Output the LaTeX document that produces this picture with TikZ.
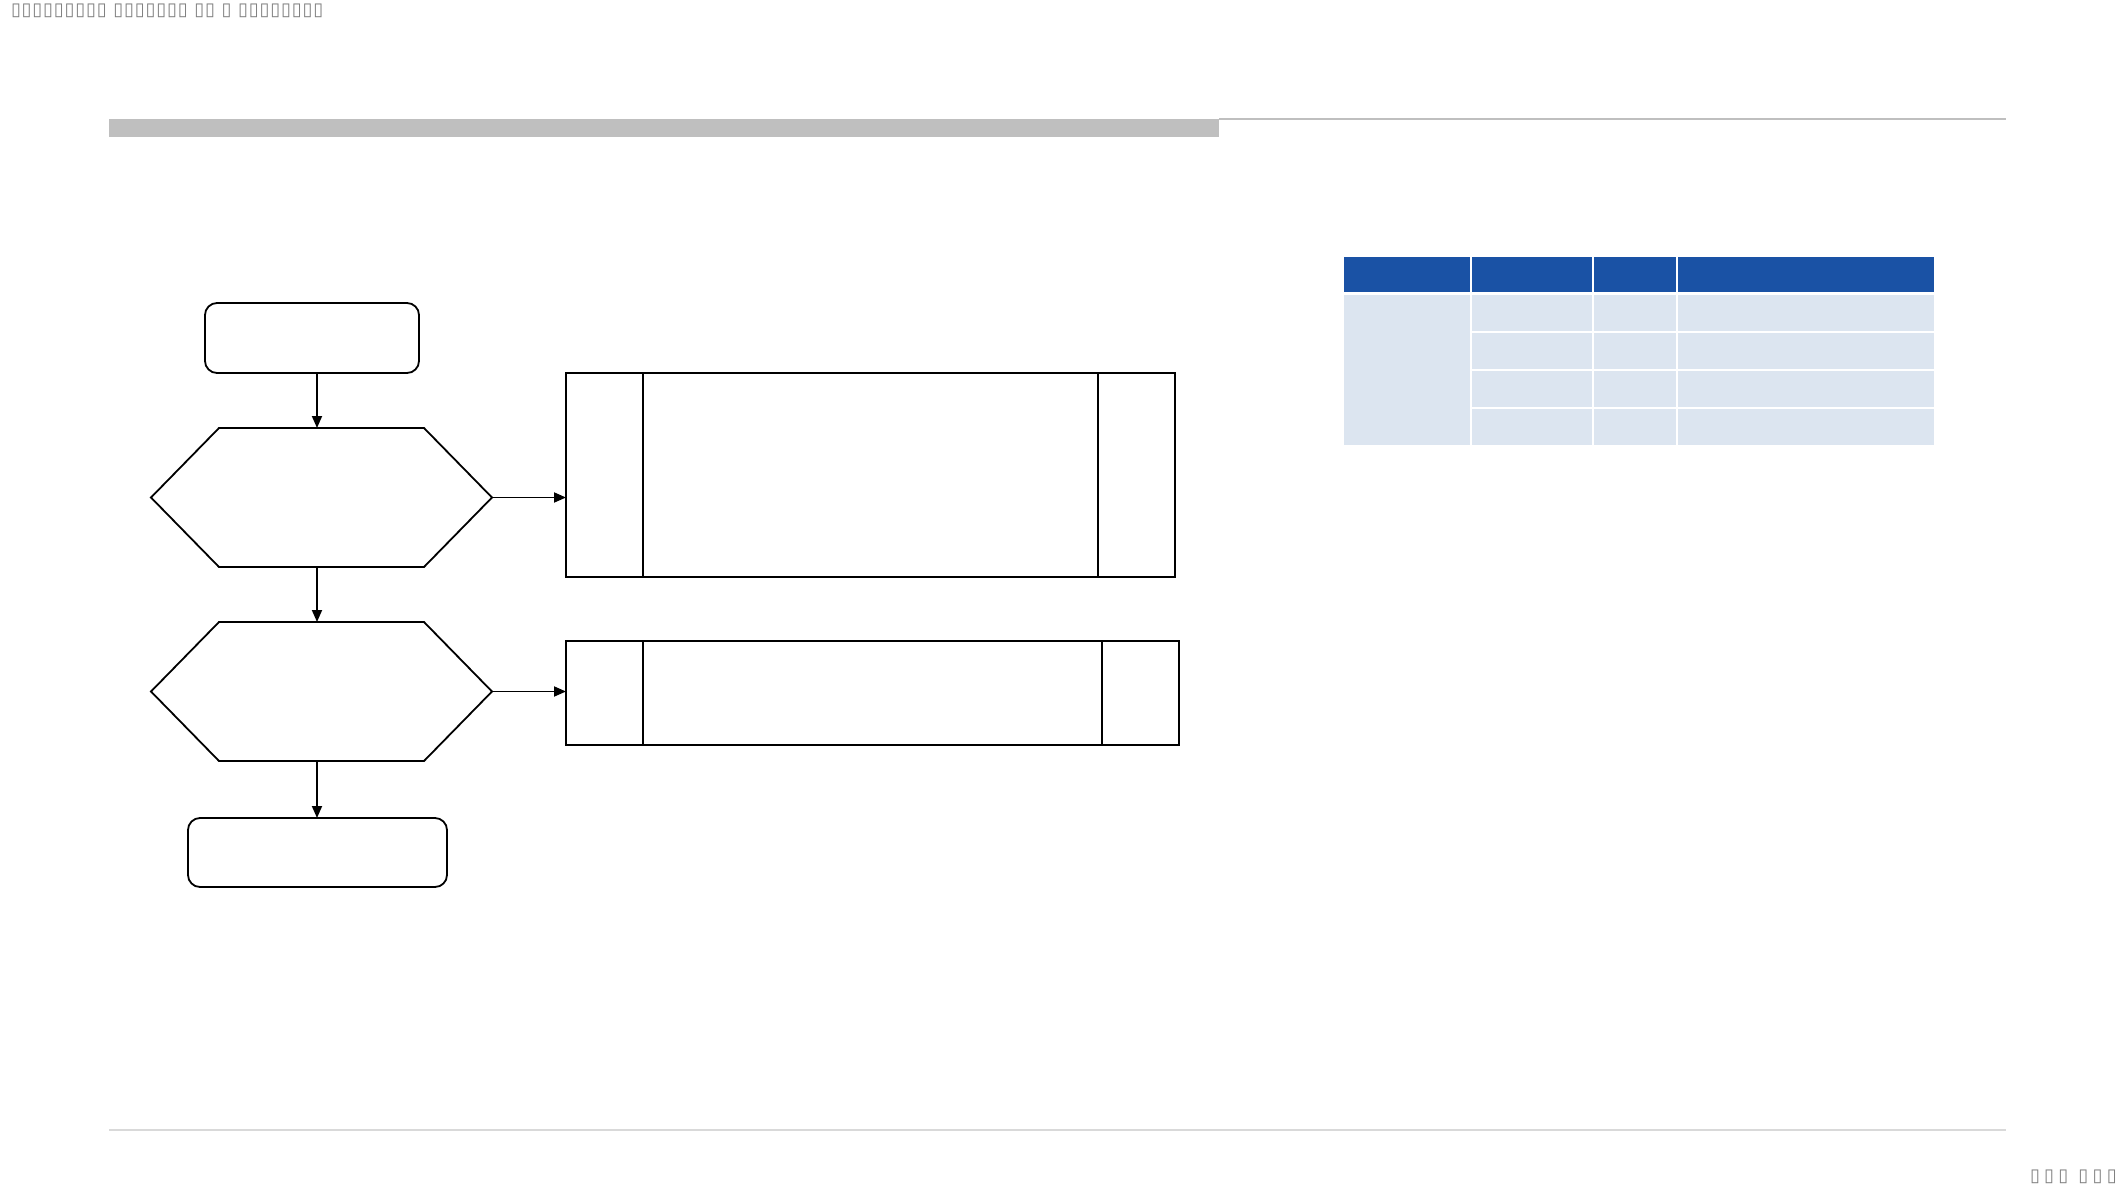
\documentclass[tikz,border=0pt]{standalone}
\usepackage{fontspec}
\newfontfamily\tofutop[LetterSpace=4.7]{DejaVu Sans}
\newfontfamily\tofubot[LetterSpace=24]{DejaVu Sans}
\usetikzlibrary{arrows.meta}
\definecolor{hdrblue}{RGB}{26,82,165}
\definecolor{cellblue}{RGB}{220,229,240}
\definecolor{bargray}{RGB}{191,191,191}
\definecolor{rulegray}{RGB}{217,217,217}
\definecolor{tofugray}{RGB}{128,128,128}
\tikzset{
  shapeline/.style={draw=black, line width=1.8pt},
  termbox/.style={shapeline, rounded corners=12pt, inner sep=0pt, outer sep=0pt},
  hexfrm/.style={draw=none, inner sep=0pt, outer sep=0pt, minimum width=341pt, minimum height=139pt},
  procbox/.style={shapeline, inner sep=0pt, outer sep=0pt},
  arr/.style={draw=black, line width=1.8pt, -{Triangle[length=12pt,width=10pt]}},
  hdrcell/.style={fill=hdrblue, draw=none, inner sep=0pt, outer sep=0pt, anchor=north west},
  bodycell/.style={fill=cellblue, draw=none, inner sep=0pt, outer sep=0pt, anchor=north west},
  tofu/.style={text=tofugray, inner sep=0pt, outer sep=0pt}
}
\begin{document}
\begin{tikzpicture}[x=1pt, y=-1pt]
\useasboundingbox (0,0) rectangle (2117,1191);
% header texts (rendered as missing-glyph boxes)
\node[tofu, anchor=west, font=\tofutop\fontsize{18}{20}\selectfont] (title) at (11,11) {▯▯▯▯▯▯▯▯▯ ▯▯▯▯▯▯▯ ▯▯ ▯ ▯▯▯▯▯▯▯▯};
\node[tofu, anchor=west, font=\tofubot\fontsize{18}{20}\selectfont] (pageno) at (2030,1177) {▯▯▯ ▯▯▯};
% title bar and rules
\fill[bargray] (109,119) rectangle (1219,137);
\draw[bargray, line width=2pt] (1219,119) -- (2006,119);
\draw[rulegray, line width=1.3pt] (109,1130) -- (2006,1130);
% flowchart
\node[termbox, minimum width=214pt, minimum height=70pt] (start) at (312,338) {};
\node[hexfrm] (hA) at (321.5,497.5) {};
\draw[shapeline] (hA.west) -- ([xshift=68pt]hA.north west) -- ([xshift=-68pt]hA.north east) -- (hA.east) -- ([xshift=-68pt]hA.south east) -- ([xshift=68pt]hA.south west) -- cycle;
\node[hexfrm] (hB) at (321.5,691.5) {};
\draw[shapeline] (hB.west) -- ([xshift=68pt]hB.north west) -- ([xshift=-68pt]hB.north east) -- (hB.east) -- ([xshift=-68pt]hB.south east) -- ([xshift=68pt]hB.south west) -- cycle;
\node[termbox, minimum width=259pt, minimum height=69pt] (stop) at (317.5,852.5) {};
\node[procbox, minimum width=609pt, minimum height=204pt] (bA) at (870.5,475) {};
\draw[black, line width=1.2pt] ([xshift=77pt]bA.north west) -- ([xshift=77pt]bA.south west);
\draw[black, line width=1.2pt] ([xshift=-77pt]bA.north east) -- ([xshift=-77pt]bA.south east);
\node[procbox, minimum width=613pt, minimum height=104pt] (bB) at (872.5,693) {};
\draw[black, line width=1.8pt] ([xshift=77pt]bB.north west) -- ([xshift=77pt]bB.south west);
\draw[black, line width=1.8pt] ([xshift=-77pt]bB.north east) -- ([xshift=-77pt]bB.south east);
% connectors
\coordinate (colx) at (317,0);
\draw[arr] (start.south -| colx) -- (hA.north -| colx);
\draw[arr] (hA.south -| colx) -- (hB.north -| colx);
\draw[arr] (hB.south -| colx) -- (stop.north -| colx);
\draw[arr] (hA.east) -- (hA.east -| bA.west);
\draw[arr] (hB.east) -- (hB.east -| bB.west);
% table
\node[hdrcell, minimum width=126pt, minimum height=35pt] (h1) at (1344,257) {};
\node[hdrcell, minimum width=120pt, minimum height=35pt] (h2) at (1472,257) {};
\node[hdrcell, minimum width=82pt, minimum height=35pt] (h3) at (1594,257) {};
\node[hdrcell, minimum width=256pt, minimum height=35pt] (h4) at (1678,257) {};
\node[bodycell, minimum width=126pt, minimum height=150pt] (c1) at (1344,295) {};
\foreach \y/\n in {295/1,333/2,371/3,409/4}{
  \node[bodycell, minimum width=120pt, minimum height=36pt] (r\n a) at (1472,\y) {};
  \node[bodycell, minimum width=82pt, minimum height=36pt] (r\n b) at (1594,\y) {};
  \node[bodycell, minimum width=256pt, minimum height=36pt] (r\n c) at (1678,\y) {};
}
\end{tikzpicture}
\end{document}
